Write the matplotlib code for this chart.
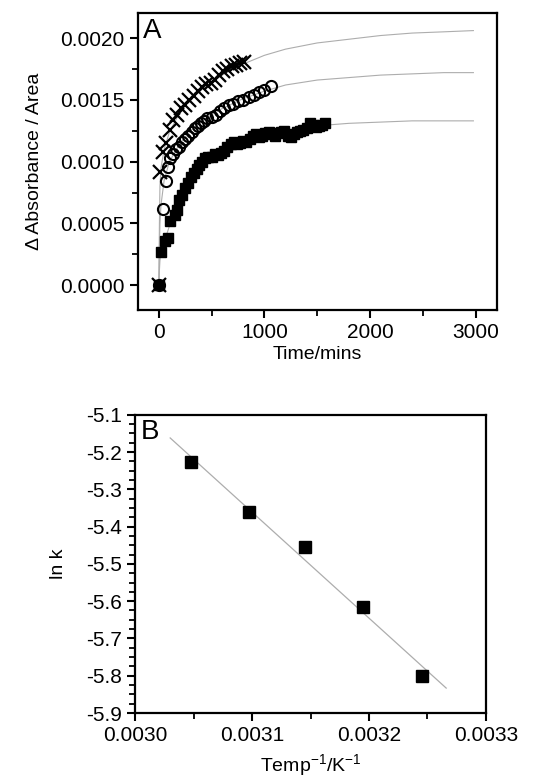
import numpy as np
import matplotlib
matplotlib.use('Agg')
import matplotlib.pyplot as plt
from matplotlib.ticker import MultipleLocator, FormatStrFormatter

plt.rcParams['font.family'] = ['Liberation Sans', 'DejaVu Sans']
plt.rcParams['axes.unicode_minus'] = False

## Panel A data (time in mins, absorbance change per area)
t_cross = [0, 15, 40, 70, 110, 130, 170, 210, 250, 290, 330, 370, 410, 450,
           490, 530, 570, 610, 650, 690, 730, 770, 810]
v_cross = [0, 0.00092, 0.00108, 0.00115, 0.00126, 0.00134, 0.00138, 0.00143,
           0.00146, 0.00150, 0.00153, 0.00157, 0.00160, 0.00163, 0.00164,
           0.00166, 0.00170, 0.00173, 0.00175, 0.00177, 0.00178, 0.00180, 0.00181]

t_circ = [0, 38, 66, 85, 110, 130, 160, 190, 220, 250, 280, 310, 340, 370, 400,
          430, 460, 500, 540, 580, 620, 660, 700, 750, 800, 850, 900, 950, 1000, 1060]
v_circ = [0, 0.00062, 0.00084, 0.00096, 0.00103, 0.00106, 0.00110, 0.00112,
          0.00116, 0.00118, 0.00121, 0.00124, 0.00127, 0.00129, 0.00131, 0.00133,
          0.00135, 0.00136, 0.00138, 0.00141, 0.00143, 0.00146, 0.00147, 0.00149,
          0.00150, 0.00152, 0.00154, 0.00156, 0.00158, 0.00161]

t_sq = [0, 20, 60, 85, 110, 150, 170, 190, 220, 250, 280, 300, 330, 360, 380,
        410, 440, 470, 500, 530, 560, 590, 620, 650, 680, 710, 740, 770, 800,
        830, 860, 890, 920, 950, 980, 1010, 1040, 1070, 1100, 1130, 1160, 1190,
        1220, 1250, 1280, 1310, 1340, 1370, 1400, 1430, 1460, 1490, 1520, 1550, 1570]
v_sq = [0, 0.00027, 0.00036, 0.00038, 0.00052, 0.00057, 0.00061, 0.00069,
        0.00073, 0.00079, 0.00083, 0.00088, 0.00091, 0.00094, 0.00097, 0.00100,
        0.00103, 0.00104, 0.00104, 0.00106, 0.00105, 0.00107, 0.00109, 0.00112,
        0.00114, 0.00116, 0.00114, 0.00115, 0.00117, 0.00116, 0.00118, 0.00121,
        0.00122, 0.00120, 0.00121, 0.00123, 0.00124, 0.00122, 0.00121, 0.00123,
        0.00124, 0.00125, 0.00121, 0.00120, 0.00122, 0.00124, 0.00125, 0.00126,
        0.00127, 0.00131, 0.00130, 0.00128, 0.00129, 0.00130, 0.00131]

# fitted curves
t_fit = [0, 5, 10, 20, 50, 100, 200, 300, 400, 500, 600, 800, 1000, 1200,
         1500, 1800, 2100, 2400, 2700, 2980]
fit_cross = [0, 0.0005, 0.0008, 0.00095, 0.00110, 0.00124, 0.00140, 0.00150,
             0.00158, 0.00164, 0.00170, 0.00179, 0.00186, 0.00191, 0.00196,
             0.00199, 0.00202, 0.00204, 0.00205, 0.00206]
fit_circ = [0, 0.0003, 0.0005, 0.00065, 0.00085, 0.00100, 0.00115, 0.00125,
            0.00132, 0.00138, 0.00143, 0.00151, 0.00157, 0.00162, 0.00166,
            0.00168, 0.00170, 0.00171, 0.00172, 0.00172]
fit_sq = [0, 0.00012, 0.0002, 0.00027, 0.00035, 0.00048, 0.00072, 0.00087,
          0.00096, 0.00103, 0.00108, 0.00116, 0.00121, 0.00125, 0.00129,
          0.00131, 0.00132, 0.00133, 0.00133, 0.00133]

## Panel B data (Arrhenius)
inv_temp = [0.003048, 0.003097, 0.003145, 0.003195, 0.003245]
ln_k = [-5.228, -5.362, -5.455, -5.615, -5.800]
line_x = [0.00303, 0.003266]

fig = plt.figure(figsize=(5.34, 7.81), dpi=100)
axA = fig.add_axes([0.258, 0.603, 0.672, 0.380])
axB = fig.add_axes([0.253, 0.087, 0.657, 0.382])

fitcol = '0.68'
for v in (fit_cross, fit_circ, fit_sq):
    axA.plot(t_fit, v, color=fitcol, linewidth=0.8, zorder=1)

axA.plot(t_sq, v_sq, 's', color='black', markersize=7.5, zorder=2)
axA.plot(t_circ, v_circ, 'o', markerfacecolor='none', markeredgecolor='black',
         markersize=8, markeredgewidth=1.5, zorder=3)
axA.plot(t_cross, v_cross, 'x', color='black', markersize=10,
         markeredgewidth=1.6, zorder=4)

axA.set_xlim(-200, 3200)
axA.set_ylim(-0.0002, 0.0022)
axA.xaxis.set_major_locator(MultipleLocator(1000))
axA.xaxis.set_minor_locator(MultipleLocator(500))
axA.yaxis.set_major_locator(MultipleLocator(0.0005))
axA.yaxis.set_minor_locator(MultipleLocator(0.00025))
axA.yaxis.set_major_formatter(FormatStrFormatter('%.4f'))
axA.set_xlabel('Time/mins', fontsize=14, labelpad=3)
axA.set_ylabel('\u0394 Absorbance / Area', fontsize=14, labelpad=12)
axA.text(0.015, 0.985, 'A', transform=axA.transAxes, fontsize=20,
         va='top', ha='left')

# Panel B
slope, icpt = np.polyfit(inv_temp, ln_k, 1)
axB.plot(line_x, [slope * x + icpt for x in line_x], color=fitcol,
         linewidth=0.9, zorder=1)
axB.plot(inv_temp, ln_k, 's', color='black', markersize=8.5, zorder=2)
axB.set_xlim(0.0030, 0.0033)
axB.set_ylim(-5.9, -5.1)
axB.xaxis.set_major_locator(MultipleLocator(0.0001))
axB.xaxis.set_minor_locator(MultipleLocator(0.00005))
axB.xaxis.set_major_formatter(FormatStrFormatter('%.4f'))
axB.yaxis.set_major_locator(MultipleLocator(0.1))
axB.yaxis.set_minor_locator(MultipleLocator(0.025))
axB.yaxis.set_major_formatter(FormatStrFormatter('%.1f'))
axB.set_xlabel('Temp$^{\\mathregular{-1}}$/K$^{\\mathregular{-1}}$',
               fontsize=14, labelpad=5)
axB.set_ylabel('ln k', fontsize=14, labelpad=14)
axB.text(0.015, 0.985, 'B', transform=axB.transAxes, fontsize=20,
         va='top', ha='left')

for ax in (axA, axB):
    for s in ax.spines.values():
        s.set_linewidth(1.6)
    ax.tick_params(which='major', direction='out', length=6, width=1.5,
                   labelsize=15, top=False, right=False)
    ax.tick_params(which='minor', direction='out', length=4, width=1.3,
                   top=False, right=False)

fig.savefig('out.png', dpi=100)
